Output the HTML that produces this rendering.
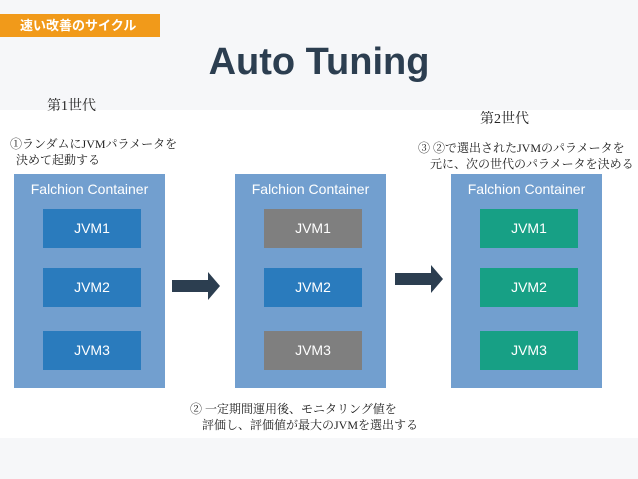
<!DOCTYPE html>
<html><head><meta charset="utf-8"><style>
body{margin:0;width:638px;height:479px;position:relative;background:#f6f7f9;overflow:hidden;font-family:"Liberation Sans","Noto Sans CJK JP",sans-serif}
.a{position:absolute}
.w{left:0;top:110px;width:638px;height:328px;background:#fff}
.c{background:#729fcf;width:151px;height:214px;top:174px}
.ch{color:#fff;font-size:14px;text-align:center;width:151px;top:181px}
.j{width:98px;height:39px;color:#fff;font-size:14px;line-height:39px;text-align:center}
.b{background:#2a7bbd}.g{background:#7f7f7f}.gr{background:#17a085}
.t{font-family:"Liberation Serif","Noto Serif CJK SC",serif;font-size:12px;line-height:16px;color:#222;white-space:nowrap}
</style></head><body>
<div class="a w"></div>
<div class="a" style="left:0;top:14px;width:160px;height:23px;background:#f19a1a;color:#fff;font-weight:bold;font-size:13px;line-height:23px;padding-left:20px;box-sizing:border-box">速い改善のサイクル</div>
<div class="a" style="left:0;width:638px;top:38px;text-align:center;font-size:38px;font-weight:bold;color:#2c3e50;line-height:48px">Auto Tuning</div>
<div class="a t" style="left:47px;top:99px;font-size:14px">第1世代</div>
<div class="a t" style="left:480px;top:112px;font-size:14px">第2世代</div>
<div class="a t" style="left:10px;top:136px">①ランダムにJVMパラメータを<br>&nbsp;&nbsp;決めて起動する</div>
<div class="a t" style="left:418px;top:140px">③ ②で選出されたJVMのパラメータを<br>&nbsp;&nbsp;&nbsp;&nbsp;元に、次の世代のパラメータを決める</div>
<div class="a t" style="left:190px;top:401px">② 一定期間運用後、モニタリング値を<br>&nbsp;&nbsp;&nbsp;&nbsp;評価し、評価値が最大のJVMを選出する</div>

<div class="a c" style="left:14px"></div><div class="a ch" style="left:14px">Falchion Container</div>
<div class="a c" style="left:235px"></div><div class="a ch" style="left:235px">Falchion Container</div>
<div class="a c" style="left:451px"></div><div class="a ch" style="left:451px">Falchion Container</div>

<div class="a j b" style="left:43px;top:209px">JVM1</div>
<div class="a j b" style="left:43px;top:268px">JVM2</div>
<div class="a j b" style="left:43px;top:331px">JVM3</div>
<div class="a j g" style="left:264px;top:209px">JVM1</div>
<div class="a j b" style="left:264px;top:268px">JVM2</div>
<div class="a j g" style="left:264px;top:331px">JVM3</div>
<div class="a j gr" style="left:480px;top:209px">JVM1</div>
<div class="a j gr" style="left:480px;top:268px">JVM2</div>
<div class="a j gr" style="left:480px;top:331px">JVM3</div>

<svg class="a" style="left:0;top:0" width="638" height="479">
<polygon points="172,280 208,280 208,272 220,286 208,300 208,292 172,292" fill="#2c3e50"/>
<polygon points="395,273 431,273 431,265 443,279 431,293 431,285 395,285" fill="#2c3e50"/>
</svg>
</body></html>
